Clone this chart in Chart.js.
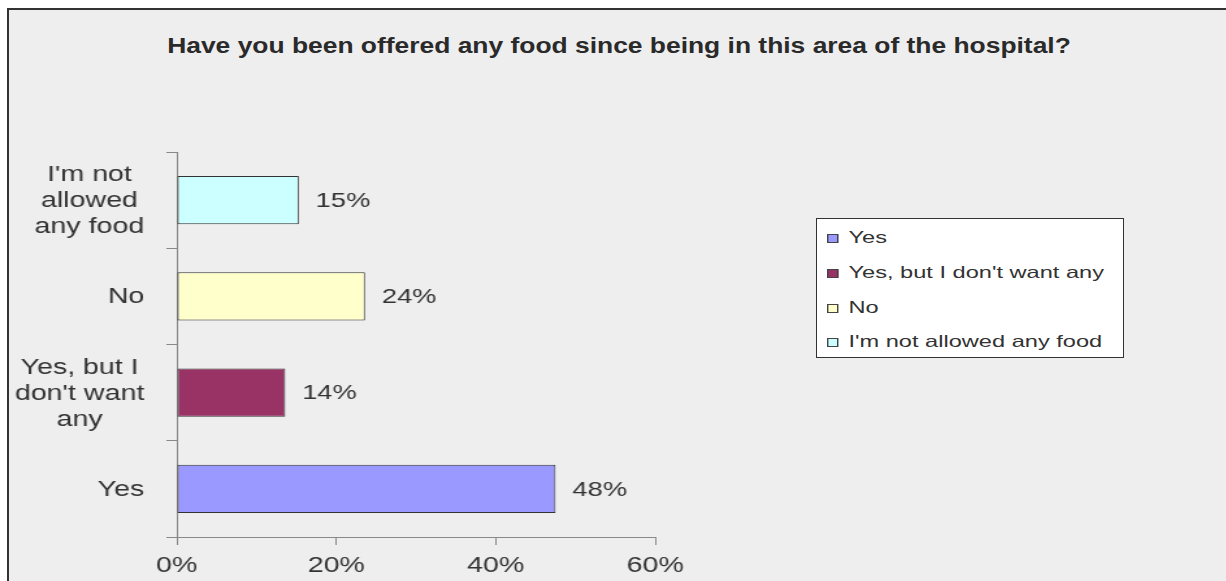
<!DOCTYPE html>
<html>
<head>
<meta charset="utf-8">
<script src="https://cdn.jsdelivr.net/npm/chart.js@4.4.1/dist/chart.umd.min.js"></script>
<style>
  html, body { margin: 0; padding: 0; background: #ffffff; }
  body { width: 1226px; height: 581px; position: relative; overflow: hidden; font-family: "Liberation Sans", Arial, sans-serif; }
  #frame { position: absolute; left: 7px; top: 8px; width: 1240px; height: 600px; background: #eeeeee; border-left: 2px solid #333; border-top: 2px solid #333; }
  #title { position: absolute; left: 19px; width: 1200px; top: 33px; line-height: 25px; text-align: center; font-weight: bold; font-size: 22px; color: #2a2a2a; transform: scaleX(1.2); transform-origin: 50% 0; white-space: nowrap; }
  /* the reference picture is stretched sideways, so the chart is drawn narrow and widened */
  #chartBox { position: absolute; left: 0; top: 0; width: 943px; height: 581px; transform: scaleX(1.3); transform-origin: 0 0; }
  #legend { position: absolute; left: 816px; top: 218px; width: 306px; height: 138px; background: #fff; border: 1px solid #333; color: #333; }
  #legend div { position: absolute; left: 10px; height: 18px; line-height: 18px; font-size: 16.5px; white-space: nowrap; transform: scaleX(1.43); transform-origin: 0 0; }
  #legend span { display: inline-block; width: 6px; height: 7px; border: 1px solid #444; margin-right: 7px; vertical-align: 0px; }
</style>
</head>
<body>
<div id="frame"></div>
<div id="title">Have you been offered any food since being in this area of the hospital?</div>
<div id="chartBox"><canvas id="foodChart" width="943" height="581"></canvas></div>
<div id="legend"></div>
<script>
// answers, listed bottom-up as in the legend
const answers = ['Yes', "Yes, but I don't want any", 'No', "I'm not allowed any food"];
const answerLines = [['Yes'], ['Yes, but I', "don't want", 'any'], ['No'], ["I'm not", 'allowed', 'any food']];
const shares = [47.5, 13.6, 23.6, 15.3];
const shareLabels = ['48%', '14%', '24%', '15%'];
const fills = ['#9999ff', '#993366', '#ffffcc', '#ccffff'];
const xTicks = [0, 20, 40, 60];

// category axis draws first label on top, so reverse for the chart
const rev = arr => arr.slice().reverse();
const labelFont = '"Liberation Sans", Arial, sans-serif';

const valueLabels = {
    id: 'valueLabels',
    afterDatasetsDraw(chart) {
        const ctx = chart.ctx;
        const meta = chart.getDatasetMeta(0);
        const texts = rev(shareLabels);
        ctx.save();
        ctx.font = '21px ' + labelFont;
        ctx.fillStyle = '#333';
        ctx.textBaseline = 'middle';
        meta.data.forEach((bar, i) => {
            ctx.fillText(texts[i], bar.x + 13, bar.y + 1);
        });
        ctx.restore();
    }
};

// category labels: each block right aligned, its lines centred (as Excel does)
const categoryLabels = {
    id: 'categoryLabels',
    afterDraw(chart) {
        const ctx = chart.ctx;
        const y = chart.scales.y;
        const lineH = 26;
        const right = y.right - 25;
        ctx.save();
        ctx.font = '22px ' + labelFont;
        ctx.fillStyle = '#333';
        ctx.textAlign = 'center';
        ctx.textBaseline = 'middle';
        chart.data.labels.forEach((lines, i) => {
            const w = Math.max(...lines.map(l => ctx.measureText(l).width));
            const cx = right - w / 2;
            const cy = y.getPixelForTick(i);
            lines.forEach((line, j) => {
                ctx.fillText(line, cx, cy + (j - (lines.length - 1) / 2) * lineH + 1);
            });
        });
        ctx.restore();
    }
};

new Chart(document.getElementById('foodChart'), {
    type: 'bar',
    data: {
        labels: rev(answerLines),
        datasets: [{
            data: rev(shares),
            backgroundColor: rev(fills),
            borderColor: '#333',
            borderWidth: 1,
            borderSkipped: false,
            barPercentage: 0.5,
            categoryPercentage: 1
        }]
    },
    options: {
        indexAxis: 'y',
        responsive: false,
        animation: false,
        layout: { padding: { top: 152, right: 439, left: 0, bottom: 0 } },
        plugins: { legend: { display: false }, tooltip: { enabled: false } },
        scales: {
            x: {
                min: 0,
                max: 60,
                afterBuildTicks: scale => { scale.ticks = xTicks.map(v => ({ value: v })); },
                afterFit: scale => { scale.height = 44; },
                border: { color: '#888', width: 1 },
                grid: { drawOnChartArea: false, color: '#888', tickLength: 8 },
                ticks: {
                    padding: 8,
                    color: '#333',
                    font: { family: labelFont, size: 22 },
                    callback: v => v + '%'
                }
            },
            y: {
                afterFit: scale => {
                    scale.width = 136;
                    scale.paddingTop = 0;
                    scale.paddingBottom = 0;
                },
                border: { color: '#888', width: 1 },
                grid: { drawOnChartArea: false, color: '#888', tickLength: 8, offset: true },
                ticks: { display: false }
            }
        }
    },
    plugins: [valueLabels, categoryLabels]
});

const legend = document.getElementById('legend');
const rowTops = [9, 44, 79, 113];
answers.forEach((name, i) => {
    const row = document.createElement('div');
    row.style.top = rowTops[i] + 'px';
    row.innerHTML = `<span style="background:${fills[i]}"></span>${name}`;
    legend.appendChild(row);
});
</script>
</body>
</html>
